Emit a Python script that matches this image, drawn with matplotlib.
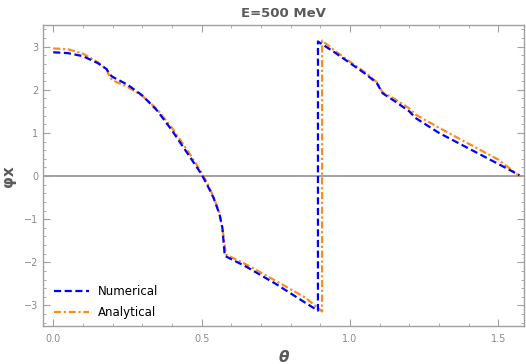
import matplotlib
matplotlib.use("Agg")
import matplotlib.pyplot as plt
from matplotlib.ticker import MultipleLocator, FormatStrFormatter

# values
theta_num = [0.0, 0.05, 0.10, 0.15, 0.18, 0.19, 0.20, 0.25, 0.30, 0.35, 0.40,
             0.45, 0.50, 0.52, 0.54, 0.56, 0.57, 0.578, 0.65, 0.75, 0.85,
             0.892, 0.8921, 0.95, 1.00, 1.05, 1.09, 1.11, 1.15, 1.20, 1.22,
             1.30, 1.40, 1.50, 1.571]
phi_num = [2.87, 2.85, 2.78, 2.62, 2.48, 2.36, 2.30, 2.12, 1.87, 1.52, 1.06,
           0.55, 0.04, -0.22, -0.50, -0.88, -1.20, -1.85, -2.10, -2.50, -2.94,
           -3.12, 3.12, 2.86, 2.62, 2.38, 2.16, 1.92, 1.74, 1.50, 1.35,
           1.00, 0.64, 0.28, 0.02]

theta_ana = [0.0, 0.05, 0.10, 0.15, 0.18, 0.19, 0.20, 0.25, 0.30, 0.35, 0.40,
             0.45, 0.50, 0.52, 0.54, 0.56, 0.57, 0.582, 0.65, 0.75, 0.85,
             0.906, 0.9061, 0.95, 1.00, 1.05, 1.09, 1.11, 1.15, 1.20, 1.22,
             1.30, 1.40, 1.50, 1.571]
phi_ana = [2.96, 2.94, 2.84, 2.64, 2.47, 2.30, 2.22, 2.07, 1.86, 1.55, 1.12,
           0.62, 0.08, -0.18, -0.48, -0.85, -1.20, -1.82, -2.05, -2.43, -2.82,
           -3.14, 3.14, 2.90, 2.65, 2.41, 2.18, 1.94, 1.79, 1.57, 1.43,
           1.12, 0.75, 0.38, 0.0]

yticks = [-3, -2, -1, 0, 1, 2, 3]
ytick_labels = ["\u22123", "\u22122", "\u22121", "0", "1", "2", "3"]
title = "E=500 MeV"

gray_txt = "#5a5a5a"
gray_tick = "#8a8a8a"
gray_frame = "#a0a0a0"

fig = plt.figure(figsize=(5.26, 3.64), dpi=100)
ax = fig.add_axes([0.082, 0.104, 0.914, 0.827])

ax.axhline(0, color="#9a9a9a", lw=1.3, zorder=1)
ax.plot(theta_num, phi_num, color="#0000FF", ls=(0, (3.2, 1.6)), lw=1.6,
        label="Numerical", zorder=3)
ax.plot(theta_ana, phi_ana, color="#FF8C1A", ls=(0, (3.2, 1.2, 1.0, 1.2)),
        lw=1.6, label="Analytical", zorder=2)

ax.set_xlim(-0.034, 1.586)
ax.set_ylim(-3.48, 3.50)
ax.xaxis.set_major_locator(MultipleLocator(0.5))
ax.xaxis.set_minor_locator(MultipleLocator(0.1))
ax.xaxis.set_major_formatter(FormatStrFormatter("%.1f"))
ax.yaxis.set_minor_locator(MultipleLocator(0.2))
ax.set_yticks(yticks)
ax.set_yticklabels(ytick_labels)
ax.tick_params(which="both", direction="in", top=True, right=True,
               color=gray_frame, labelcolor=gray_tick, labelsize=7)
ax.tick_params(which="major", length=5, width=0.8)
ax.tick_params(which="minor", length=2.5, width=0.6)
ax.tick_params(axis="x", pad=6)
for sp in ax.spines.values():
    sp.set_color(gray_frame)
    sp.set_linewidth(1.0)

ax.set_title(title, color=gray_txt, fontsize=9.5, fontweight="bold", pad=6)
ax.set_xlabel("\u03b8", color=gray_txt, fontsize=11, fontweight="bold",
              style="italic", labelpad=4)
ax.set_ylabel("\u03c6x", color=gray_txt, fontsize=11, fontweight="bold",
              labelpad=6)

ax.legend(loc="lower left", frameon=False, fontsize=8.5, handlelength=3.0,
          handletextpad=0.7, bbox_to_anchor=(0.0, -0.012), labelspacing=0.65)

fig.savefig("out.png", dpi=100)
